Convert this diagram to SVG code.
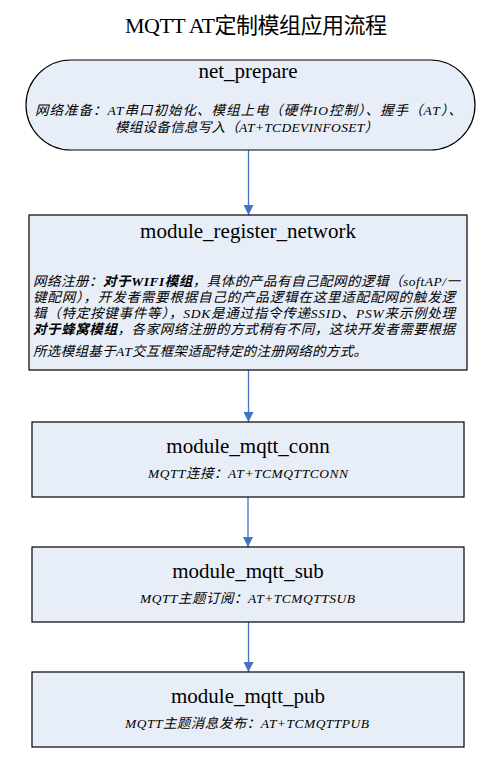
<svg xmlns="http://www.w3.org/2000/svg" width="499" height="759" viewBox="0 0 499 759">
<defs>
<marker id="arr" markerWidth="10" markerHeight="10" refX="10" refY="5" orient="auto" markerUnits="userSpaceOnUse">
<path d="M0,0 L10,5 L0,10 Z" fill="#4472C4"/>
</marker>
<style>
.node{fill:#E8EEF8;stroke:#000;stroke-width:1.2}
.ttl{font-family:"Liberation Serif","Noto Sans CJK SC",serif;font-size:21px;fill:#000;text-anchor:middle}
.sub{font-family:"Liberation Serif","Noto Sans CJK SC",serif;font-size:13.5px;font-style:italic;fill:#000}
.b{font-weight:bold}
.edge{stroke:#4472C4;stroke-width:1.3;fill:none;marker-end:url(#arr)}
</style>
</defs>
<rect width="499" height="759" fill="#fff"/>
<text id="title" x="256" y="33" font-family="Liberation Serif,'Noto Sans CJK SC',serif" font-size="22" text-anchor="middle" textLength="262">MQTT AT定制模组应用流程</text>
<g id="connectors">
<line class="edge" x1="248.5" y1="150" x2="248.5" y2="215"/>
<line class="edge" x1="248.5" y1="370" x2="248.5" y2="422"/>
<line class="edge" x1="248" y1="497" x2="248" y2="547"/>
<line class="edge" x1="248.5" y1="622" x2="248.5" y2="672"/>
</g>
<g id="net_prepare">
<rect class="node" x="26" y="60" width="449" height="90" rx="45" ry="45"/>
<text class="ttl" x="248" y="78">net_prepare</text>
<text class="sub" x="35" y="115" textLength="427">网络准备：AT串口初始化、模组上电（硬件IO控制）、握手（AT）、</text>
<text class="sub" x="115" y="132" textLength="263">模组设备信息写入（AT+TCDEVINFOSET）</text>
</g>
<g id="module_register_network">
<rect class="node" x="29" y="215" width="438" height="155"/>
<text class="ttl" x="248" y="238">module_register_network</text>
<text class="sub" x="33" y="286" textLength="427">网络注册：<tspan class="b">对于WIFI模组</tspan>，具体的产品有自己配网的逻辑（softAP/一</text>
<text class="sub" x="33" y="302" textLength="422">键配网），开发者需要根据自己的产品逻辑在这里适配配网的触发逻</text>
<text class="sub" x="33" y="318" textLength="422">辑（特定按键事件等），SDK是通过指令传递SSID、PSW来示例处理</text>
<text class="sub" x="33" y="334" textLength="422"><tspan class="b">对于蜂窝模组</tspan>，各家网络注册的方式稍有不同，这块开发者需要根据</text>
<text class="sub" x="33" y="356" textLength="334">所选模组基于AT交互框架适配特定的注册网络的方式。</text>
</g>
<g id="module_mqtt_conn">
<rect class="node" x="32" y="422" width="432" height="75"/>
<text class="ttl" x="248" y="453">module_mqtt_conn</text>
<text class="sub" x="148" y="478" textLength="200">MQTT连接：AT+TCMQTTCONN</text>
</g>
<g id="module_mqtt_sub">
<rect class="node" x="32" y="547" width="432" height="75"/>
<text class="ttl" x="248" y="578">module_mqtt_sub</text>
<text class="sub" x="140" y="603" textLength="215">MQTT主题订阅：AT+TCMQTTSUB</text>
</g>
<g id="module_mqtt_pub">
<rect class="node" x="32" y="672" width="432" height="75"/>
<text class="ttl" x="248" y="703">module_mqtt_pub</text>
<text class="sub" x="125" y="728" textLength="244">MQTT主题消息发布：AT+TCMQTTPUB</text>
</g>
</svg>
